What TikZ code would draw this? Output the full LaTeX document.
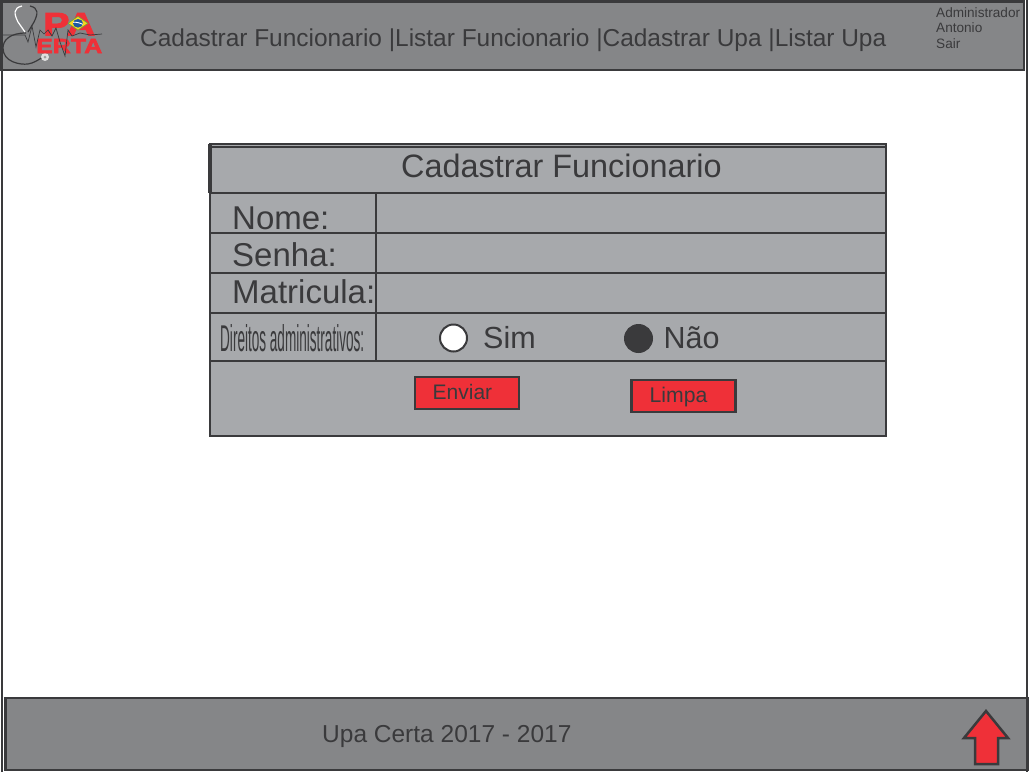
\documentclass[tikz,border=0pt]{standalone}
\usepackage{graphicx}
\usepackage{fontspec}
\setmainfont{Liberation Sans}
\newfontfamily\logofont[BoldFeatures={FakeBold=2.5}]{Liberation Sans}
\usetikzlibrary{
	arrows.meta,
	calc,
	positioning
}
\definecolor{BarGray}{RGB}{133,134,136}
\definecolor{FormGray}{RGB}{167,169,172}
\definecolor{DarkLine}{RGB}{58,58,60}
\definecolor{UpaRed}{RGB}{239,48,56}
\definecolor{FlagGreen}{RGB}{110,170,60}
\definecolor{FlagYellow}{RGB}{250,215,30}
\definecolor{FlagBlue}{RGB}{30,90,160}
\tikzset{
	linetext/.style={text=DarkLine,inner sep=0pt,anchor=base west},
	logotext/.style={text=UpaRed,inner sep=0pt,anchor=base west},
	formline/.style={draw=DarkLine,line width=2.3pt},
	redbutton/.style={draw=DarkLine,fill=UpaRed,line width=2.3pt},
	radiobutton/.style={circle,draw=DarkLine,line width=2pt,minimum size=27pt,inner sep=0pt},
}
\newcommand{\pxfont}[1]{\fontsize{#1}{#1}\selectfont}

\begin{document}
\begin{tikzpicture}[x=1pt,y=-1pt]
	\useasboundingbox (0,0) rectangle (1029,772);
	\fill[white] (0,0) rectangle (1029,772);

	%moldura da pagina
	\draw[DarkLine,line width=2pt] (2,0)--(2,772);
	\draw[DarkLine,line width=2pt] (1027,0)--(1027,772);

	%barra superior
	\draw[formline,fill=BarGray,line width=2.5pt] (1.5,1.5) rectangle (1024,70);
	%barra inferior
	\draw[formline,fill=BarGray,line width=2.5pt] (5.5,698) rectangle (1027.5,770);

	%logo
	\draw[DarkLine,line width=1.2pt] (26,33)..controls (10,33) and (3,40) ..(3,48)..controls (3,62) and (20,65) ..(28,64)..controls (34,63) and (38,60) ..(43,57);
	\draw[white,line width=1.2pt] (22,6)..controls (13,8) and (14,14) ..(18,22)--(25,32);
	\draw[DarkLine,line width=1.2pt] (30,6)..controls (39,8) and (38,14) ..(34,22)--(28,32);
	\fill[white!75!gray] (45,57) circle (4pt);
	\fill[DarkLine!50!white] (45,57) circle (1.5pt);
	\node[logotext] (logopa) at (43,35.5) {\resizebox{52pt}{22.5pt}{\logofont\bfseries PA}};
	\node[logotext] (logoerta) at (36,53) {\resizebox{66pt}{14pt}{\logofont\bfseries ERTA}};
	\fill[FlagGreen] (78,16)--(88.5,23.3)--(78,30.5)--(67.5,23.3)--cycle;
	\fill[FlagYellow] (78,17)--(87,23.3)--(78,29.5)--(69,23.3)--cycle;
	\fill[FlagBlue] (78,23.3) ellipse (5pt and 4.3pt);
	\draw[white,line width=0.9pt] (73.2,22.3)..controls (76,21.8) and (80,23) ..(82.8,24.3);
	\draw[DarkLine,line width=0.7pt] (3,35)--(25,35)--(28,42)--(32,26)--(36,47)--(40,30)--(44,34)--(48,30)--(52,36)--(56,28)--(60,42)--(65,56)--(68,30)--(72,36)--(80,33)--(90,35)--(102,34);

	%menu
	\node[linetext] (menu) at (140,46) {\pxfont{24.45}Cadastrar Funcionario |Listar Funcionario |Cadastrar Upa |Listar Upa};
	\node[linetext] (admin) at (936,17) {\pxfont{13.6}Administrador};
	\node[linetext] (antonio) at (936,32.5) {\pxfont{13.6}Antonio};
	\node[linetext] (sair) at (936,48) {\pxfont{13.6}Sair};

	%formulario
	\draw[formline,fill=FormGray] (210,144) rectangle (886,436);
	\draw[DarkLine,line width=1.5pt] (210,147)--(886,147);
	\draw[DarkLine,line width=3.2pt] (210,144)--(210,193);
	\foreach \y in {193,233,273,313,361}
		\draw[formline] (210,\y)--(886,\y);
	\draw[formline] (376,193)--(376,361);

	\node[linetext] (titulo) at (401,177) {\pxfont{32.4}Cadastrar Funcionario};
	\node[linetext] (nome) at (232,229) {\pxfont{33}Nome:};
	\node[linetext] (senha) at (232,266) {\pxfont{33}Senha:};
	\node[linetext] (matricula) at (232,303) {\pxfont{33}Matricula:};
	\node[linetext] (direitos) at (220,351) {\resizebox{144pt}{27pt}{Direitos administrativos:}};

	%opcoes
	\node[radiobutton,fill=white] (radiosim) at (453.5,338) {};
	\node[linetext,anchor=west] (sim) at (483,338) {\pxfont{30.5}Sim};
	\node[radiobutton,fill=DarkLine] (radionao) at (638.5,338.5) {};
	\node[linetext,anchor=west] (nao) at (663.5,338) {\pxfont{30.5}Não};

	%botoes
	\node[redbutton,minimum width=104pt,minimum height=32pt,inner sep=0pt] (enviar) at (467,393) {};
	\node[linetext] (enviartxt) at (432.5,399) {\pxfont{21}Enviar};
	\node[redbutton,minimum width=104pt,minimum height=32pt,inner sep=0pt] (limpa) at (683.5,396) {};
	\node[linetext] (limpatxt) at (649.5,402) {\pxfont{21.2}Limpa};

	%rodape
	\node[linetext] (rodape) at (322,742) {\pxfont{24.5}Upa Certa 2017 - 2017};
	\draw[redbutton,line width=2.5pt] (986,711)--(1008,738)--(998,738)--(998,764)--(975,764)--(975,738)--(964,738)--cycle;
\end{tikzpicture}
\end{document}
